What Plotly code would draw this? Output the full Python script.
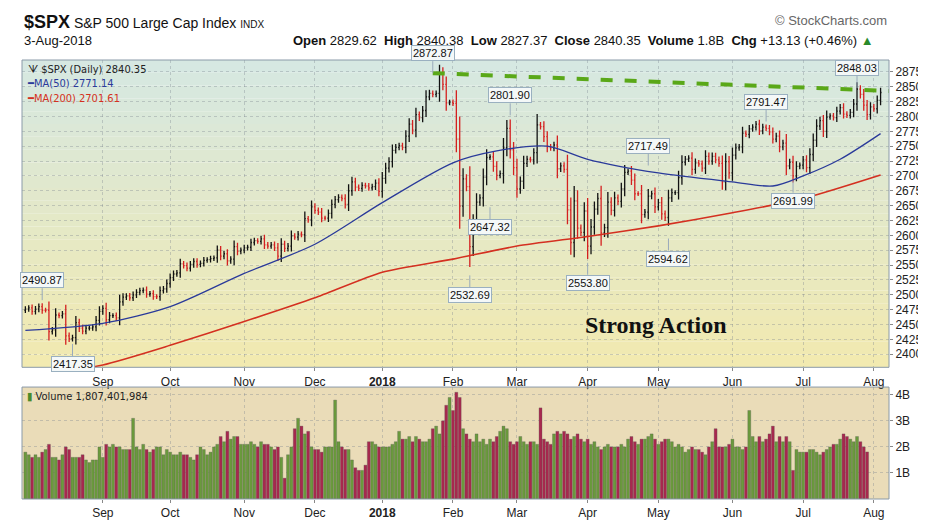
import pandas as pd
import plotly.graph_objects as go
from plotly.subplots import make_subplots

close = [
 # Aug 2017
 2476,2478,2472,2476,2480,2474,2474,2438,2441,2466,2465,2468,2431,2426,2428,2453,2444,2439,2444,2444,2446,2457,2472,
 # Sep
 2477,2458,2465,2465,2461,2488,2496,2498,2495,2500,2504,2507,2508,2501,2502,2497,2497,2507,2510,2519,
 # Oct
 2529,2535,2537,2552,2549,2545,2551,2556,2551,2553,2558,2559,2561,2562,2575,2565,2569,2557,2560,2581,2573,2575,
 # Nov
 2579,2580,2588,2591,2590,2594,2584,2582,2584,2579,2565,2585,2578,2582,2599,2597,2602,2601,2628,2626,2648,
 # Dec
 2642,2639,2629,2629,2637,2652,2660,2664,2662,2652,2675,2690,2681,2679,2684,2683,2680,2682,2688,2674,
 # Jan 2018
 2696,2713,2724,2743,2748,2751,2748,2767,2787,2777,2803,2798,2810,2833,2839,2837,2839,2873,2854,2823,2824,
 # Feb
 2822,2762,2649,2695,2682,2581,2620,2656,2663,2698,2731,2732,2716,2701,2704,2747,2780,2744,2714,
 # Mar
 2678,2691,2721,2728,2727,2739,2786,2783,2766,2749,2747,2752,2712,2717,2711,2643,2588,2658,2612,2605,2641,
 # Apr
 2582,2614,2644,2662,2604,2613,2656,2642,2663,2657,2678,2706,2708,2693,2670,2670,2635,2639,2666,2670,2648,
 # May
 2655,2636,2630,2663,2672,2672,2697,2723,2728,2730,2711,2722,2720,2713,2733,2725,2733,2727,2721,2690,2724,2705,
 # Jun
 2735,2747,2749,2772,2770,2779,2782,2787,2776,2782,2780,2774,2762,2767,2749,2755,2717,2723,2700,2716,2718,
 # Jul
 2727,2714,2736,2760,2784,2793,2775,2799,2801,2798,2809,2815,2804,2802,2807,2821,2846,2837,2819,2803,2816,
 # Aug
 2813,2827,2840.35,
]

volume_b = [
 # Aug 2017
 1.8,1.7,1.6,1.7,1.6,1.8,1.9,2.1,1.6,1.6,1.5,1.7,2.0,1.9,1.6,1.6,1.6,1.7,1.5,1.4,1.5,1.5,2.0,
 # Sep
 1.6,2.1,2.0,2.1,2.0,2.0,1.9,1.9,1.9,3.1,2.0,1.9,2.1,1.9,1.8,1.9,
 # Oct
 2.0,2.0,1.7,1.9,1.8,1.7,1.7,1.8,1.7,1.7,1.6,1.5,1.7,2.0,1.9,1.7,1.8,2.0,2.1,2.4,2.2,2.6,
 # Nov
 2.3,2.4,2.4,2.1,2.1,2.1,2.2,2.1,2.0,2.2,2.1,2.1,2.0,1.9,2.0,1.6,0.8,1.7,2.0,2.7,3.1,
 # Dec
 2.8,2.5,2.6,2.0,1.9,1.9,1.8,2.0,2.0,2.0,3.8,2.2,2.0,1.9,1.9,1.5,1.2,1.1,1.1,1.3,
 # Jan 2018
 2.2,2.2,2.1,2.0,2.0,2.0,2.0,2.1,2.2,2.6,2.3,2.3,2.4,2.2,2.4,2.3,2.2,2.2,2.3,2.7,2.8,
 # Feb
 2.5,3.0,3.6,3.9,3.4,4.1,3.9,2.7,2.5,2.3,2.2,2.5,2.2,2.3,2.1,2.3,2.2,2.4,2.6,
 # Mar
 2.8,2.7,2.2,2.1,2.2,2.4,2.2,2.1,2.2,2.2,2.1,3.5,2.3,2.2,2.1,2.5,2.6,2.5,2.6,2.5,2.3,
 # Apr
 2.4,2.5,2.3,2.2,2.3,2.1,2.2,2.0,1.9,2.0,2.1,2.0,2.0,2.0,2.1,2.0,2.3,2.4,2.2,2.1,2.3,
 # May
 2.3,2.4,2.5,2.3,2.1,2.2,2.3,2.3,2.2,2.0,2.1,2.0,1.8,1.9,2.0,1.9,1.9,1.8,1.7,2.0,2.2,2.7,
 # Jun
 2.0,2.0,2.0,2.1,2.3,2.0,2.0,1.9,2.0,3.4,2.4,2.2,2.4,2.2,2.3,2.5,2.8,2.2,2.4,2.2,2.4,
 # Jul
 2.2,1.1,1.9,1.8,1.8,1.8,1.9,1.9,1.8,1.7,1.8,1.9,2.0,2.1,2.1,2.3,2.5,2.4,2.3,2.2,2.4,
 # Aug
 2.2,2.0,1.807401984,
]

# moving averages at sample bars
ma50_idx = [0, 23, 43, 65, 86, 106, 127, 140, 155, 167, 188, 210, 222, 231, 242, 254]
ma50_val = [2440, 2452, 2480, 2536, 2585, 2655, 2722, 2742, 2750, 2728, 2705, 2690, 2683, 2700, 2728, 2771.14]
ma200_idx = [0, 23, 43, 65, 86, 106, 127, 146, 167, 188, 210, 231, 254]
ma200_val = [2362, 2382, 2415, 2455, 2495, 2538, 2560, 2582, 2598, 2616, 2638, 2662, 2701.61]

month_idx = [23, 43, 65, 86, 106, 127, 146, 167, 188, 210, 231, 252]
month_lbl = ["Sep", "Oct", "Nov", "Dec", "2018", "Feb", "Mar", "Apr", "May", "Jun", "Jul", "Aug"]

price_labels = [(5, 2490.87, "2490.87", True), (14, 2417.35, "2417.35", False), (121, 2872.87, "2872.87", True),
                (132, 2532.69, "2532.69", False), (144, 2801.90, "2801.90", True), (138, 2647.32, "2647.32", False),
                (185, 2717.49, "2717.49", True), (167, 2553.80, "2553.80", False), (191, 2594.62, "2594.62", False),
                (220, 2791.47, "2791.47", True), (228, 2691.99, "2691.99", False), (247, 2848.03, "2848.03", True)]
trend_x = [121, 256.5]
trend_y = [2872.87, 2843]

n = len(close)
x = list(range(n))
opn = [close[0] - 2] + close[:-1]
high = [max(o, c) + 0.3 * abs(c - o) + 4 for o, c in zip(opn, close)]
low = [min(o, c) - 0.3 * abs(c - o) - 4 for o, c in zip(opn, close)]
vol = [v * 1e9 for v in volume_b]
vcol = ["#6a9a3c" if c >= o else "#a8284e" for o, c in zip(opn, close)]

fig = make_subplots(rows=2, cols=1, shared_xaxes=False)

fig.add_trace(go.Ohlc(x=x, open=opn, high=high, low=low, close=close,
                      increasing=dict(line=dict(color="#111111", width=1.3)),
                      decreasing=dict(line=dict(color="#d42020", width=1.3)),
                      tickwidth=0.3, showlegend=False, hoverinfo="skip"), row=1, col=1)
fig.add_trace(go.Scatter(x=ma50_idx, y=ma50_val, mode="lines",
                         line=dict(color="#2a3a9a", width=1.3, shape="spline", smoothing=0.8),
                         showlegend=False), row=1, col=1)
fig.add_trace(go.Scatter(x=ma200_idx, y=ma200_val, mode="lines",
                         line=dict(color="#d43020", width=1.6, shape="spline", smoothing=0.6),
                         showlegend=False), row=1, col=1)
fig.add_trace(go.Scatter(x=trend_x, y=trend_y, mode="lines", line=dict(color="#5aa818", width=4, dash="dash"),
                         showlegend=False), row=1, col=1)
fig.add_trace(go.Bar(x=x, y=vol, marker=dict(color=vcol, line=dict(width=0.3, color="#555")),
                     showlegend=False), row=2, col=1)

top = (214, 232, 226)
bot = (242, 234, 176)
N = 24
for i in range(N):
    t = i / (N - 1)
    c = tuple(int(top[k] + (bot[k] - top[k]) * t) for k in range(3))
    fig.add_shape(type="rect", xref="x domain", yref="y domain", x0=0, x1=1,
                  y0=1 - (i + 1) / N, y1=1 - i / N, fillcolor="rgb(%d,%d,%d)" % c,
                  line_width=0, layer="below")
fig.add_shape(type="rect", xref="x2 domain", yref="y2 domain", x0=0, x1=1, y0=0, y1=1,
              fillcolor="#eadcb8", line_width=0, layer="below")
for ax, ay in [("x", "y"), ("x2", "y2")]:
    fig.add_shape(type="rect", xref=ax + " domain", yref=ay + " domain",
                  x0=0, x1=1, y0=0, y1=1, line=dict(color="#8a9aa8", width=1))

for xi, yi, txt, up in price_labels:
    fig.add_annotation(x=xi, y=yi, text=txt, showarrow=True, arrowhead=0, arrowcolor="#9ab",
                       ax=0, ay=-12 if up else 12, yanchor="bottom" if up else "top",
                       font=dict(family="Liberation Sans Narrow, Arial Narrow, sans-serif", size=11, color="#111"),
                       bgcolor="#f4f8f8", bordercolor="#9ab0c0", borderwidth=1, borderpad=1, row=1, col=1)

fig.add_annotation(x=0.815, y=0.09, xref="x domain", yref="y domain", text="<b>Strong Action</b>",
                   showarrow=False, font=dict(family="Liberation Serif, serif", size=24, color="#111"),
                   row=1, col=1)

fig.add_annotation(x=0.003, y=0.997, xref="paper", yref="paper", xanchor="left", yanchor="top",
                   showarrow=False, align="left",
                   text="ᗐ $SPX (Daily) 2840.35<br><span style='color:#2a3a9a'>━MA(50) 2771.14</span><br><span style='color:#d43020'>━MA(200) 2701.61</span>",
                   font=dict(family="DejaVu Sans Condensed, DejaVu Sans", size=11, color="#222"))
fig.add_annotation(x=0.003, y=0.252, xref="paper", yref="paper", xanchor="left", yanchor="top",
                   showarrow=False, text="<span style='color:#4a8a2a'>▮</span> Volume 1,807,401,984",
                   font=dict(family="DejaVu Sans Condensed, DejaVu Sans", size=11, color="#222"))

fig.add_annotation(x=0.0, y=1.0, xref="paper", yref="paper", yshift=26, xanchor="left", yanchor="bottom", showarrow=False,
                   text="<b><span style='font-size:18px'>$SPX</span></b> S&P 500 Large Cap Index <span style='font-size:10px'>INDX</span>",
                   font=dict(family="Liberation Sans Narrow, Arial Narrow, sans-serif", size=14, color="#111"))
fig.add_annotation(x=1.0, y=1.0, xref="paper", yref="paper", yshift=30, xanchor="right", yanchor="bottom", showarrow=False,
                   text="© StockCharts.com", font=dict(family="Liberation Sans Narrow, sans-serif", size=13, color="#666"))
fig.add_annotation(x=0.0, y=1.0, xref="paper", yref="paper", yshift=10, xanchor="left", yanchor="bottom", showarrow=False,
                   text="3-Aug-2018", font=dict(family="Liberation Sans Narrow, sans-serif", size=13, color="#111"))
fig.add_annotation(x=0.985, y=1.0, xref="paper", yref="paper", yshift=10, xanchor="right", yanchor="bottom", showarrow=False,
                   text="<b>Open</b> 2829.62  <b>High</b> 2840.38  <b>Low</b> 2827.37  <b>Close</b> 2840.35  <b>Volume</b> 1.8B  <b>Chg</b> +13.13 (+0.46%) <span style='color:#2a8a2a'>▲</span>",
                   font=dict(family="Liberation Sans Narrow, Arial Narrow, sans-serif", size=13, color="#111"))

tickfont = dict(family="Liberation Sans Narrow, Arial Narrow, sans-serif", size=12, color="#222")
tt = ["<b>2018</b>" if m == "2018" else m for m in month_lbl]
for r in (1, 2):
    fig.update_xaxes(row=r, col=1, range=[-1, n + 1.5], tickvals=month_idx, ticktext=tt, ticks="outside",
                     ticklen=3, tickcolor="#888", showgrid=True, gridcolor="rgba(120,130,140,0.35)",
                     griddash="dot", zeroline=False, rangeslider=dict(visible=False), tickfont=tickfont)
fig.update_yaxes(row=1, col=1, side="right", range=[2378, 2895], tickvals=list(range(2400, 2876, 25)),
                 showgrid=True, gridcolor="rgba(120,130,140,0.35)", griddash="dot", ticks="outside",
                 ticklen=3, tickcolor="#888", tickfont=tickfont, zeroline=False)
fig.update_yaxes(row=2, col=1, side="right", range=[0, 4.3e9], tickvals=[1e9, 2e9, 3e9, 4e9],
                 ticktext=["1B", "2B", "3B", "4B"], showgrid=True, gridcolor="rgba(120,130,140,0.35)",
                 griddash="dot", ticks="outside", ticklen=3, tickcolor="#888", tickfont=tickfont, zeroline=False)

fig.update_layout(width=926, height=524, margin=dict(l=14, r=42, t=52, b=18), plot_bgcolor="white",
                  paper_bgcolor="white", bargap=0.12,
                  yaxis=dict(domain=[0.30, 1.0]), yaxis2=dict(domain=[0.0, 0.255]))
fig.write_html("out.html")
